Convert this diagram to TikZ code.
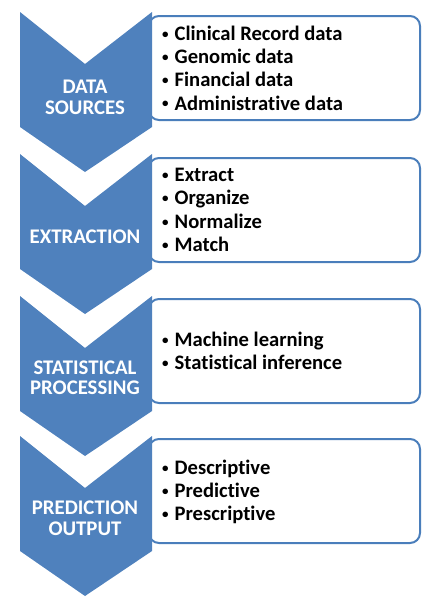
\documentclass[tikz,border=0pt]{standalone}
\usepackage{fontspec}
\setmainfont{Carlito}[Ligatures=NoCommon]
\definecolor{chev}{HTML}{4F81BD}
\definecolor{boxline}{HTML}{4A7EBB}
\newcommand{\bul}{\makebox[13.5pt][l]{\hspace{1pt}{\fontsize{13}{13}\selectfont\raisebox{2.2pt}{•}}}}
\tikzset{
  infobox/.style={draw=boxline, line width=2pt, fill=white, rounded corners=10pt,
    minimum width=271pt, minimum height=104pt, anchor=north west, inner sep=0pt},
  chevlabel/.style={text=white, font=\bfseries\fontsize{20.8}{20.5}\selectfont, align=center, inner sep=0pt},
  bullets/.style={text=black, font=\bfseries\fontsize{20.6}{23.3}\selectfont, align=left, anchor=west, inner sep=0pt}
}
\newcommand{\chevronshape}[1]{%
  \fill[chev] (20,#1) -- (85,#1+52) -- (152,#1) -- (152,#1+115) -- (85,#1+160) -- (20,#1+115) -- cycle;}
\begin{document}
\begin{tikzpicture}[x=1pt,y=-1pt]
\useasboundingbox (0,0) rectangle (422,597);
% boxes
\node[infobox] (b1) at (148,15) {};
\node[infobox] (b2) at (148,157) {};
\node[infobox] (b3) at (148,298) {};
\node[infobox] (b4) at (148,438) {};
% chevrons
\chevronshape{12}
\chevronshape{154}
\chevronshape{296}
\chevronshape{436}
% chevron labels
\node[chevlabel] (c1) at (85,97.5) {DATA\\SOURCES};
\node[chevlabel] (c2) at (85,237) {EXTRACTION};
\node[chevlabel] (c3) at (85,377.5) {STATISTICAL\\PROCESSING};
\node[chevlabel] (c4) at (85,518) {PREDICTION\\OUTPUT};
% bullet texts
\node[bullets] (t1) at (161,68) {\bul Clinical Record data\\\bul Genomic data\\\bul Financial data\\\bul Administrative data};
\node[bullets] (t2) at (161,210) {\bul Extract\\\bul Organize\\\bul Normalize\\\bul Match};
\node[bullets] (t3) at (161,351) {\bul Machine learning\\\bul Statistical inference};
\node[bullets] (t4) at (161,492) {\bul Descriptive\\\bul Predictive\\\bul Prescriptive};
\end{tikzpicture}
\end{document}
